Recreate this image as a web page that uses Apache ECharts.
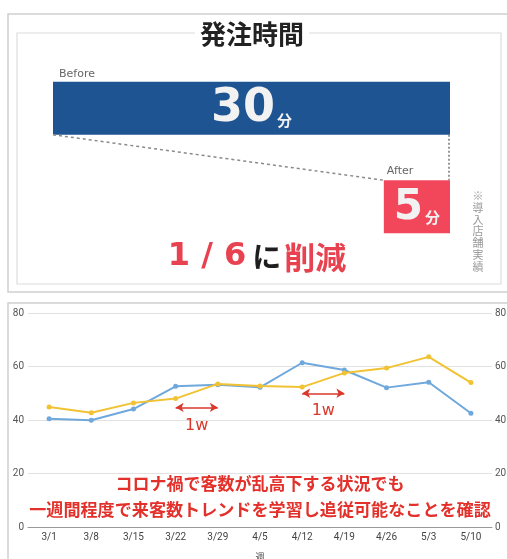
<!DOCTYPE html>
<html>
<head>
<meta charset="utf-8">
<script src="https://cdn.jsdelivr.net/npm/echarts@6/dist/echarts.min.js"></script>
<style>
  html, body { margin: 0; padding: 0; background: #fff; }
  #chart { width: 507px; height: 559px; }
</style>
</head>
<body>
<div id="chart"></div>
<script>
// Order time before / after introduction (minutes)
const phases = ['Before', 'After'];
const minutes = [30, 5];

// Weekly customer counts: actual vs. learned forecast
const weeks = ['3/1', '3/8', '3/15', '3/22', '3/29', '4/5', '4/12', '4/19', '4/26', '5/3', '5/10'];
const actual = [40.5, 39.9, 44.1, 52.6, 53.2, 52.2, 61.4, 58.7, 52.1, 54.1, 42.5];
const forecast = [44.9, 42.7, 46.4, 48.0, 53.5, 52.7, 52.3, 57.6, 59.4, 63.6, 54.0];
const yTicks = { min: 0, max: 80, step: 20 };

// One-week lag markers: [from week, to week, level, label]
const lagMarks = [
  ['3/22', '3/29', 44.7, '1w'],
  ['4/12', '4/19', 50.0, '1w']
];

const BLUE_BAR = '#1f5493';
const RED_BOX = '#f2475a';
const RED_TEXT = '#e8414f';
const NOTE_RED = '#e3302a';
const BAR_W = 53;
const NUM_FONT = '"DejaVu Sans", sans-serif';
const JP_FONT = '"Noto Sans CJK JP", sans-serif';

const chart = echarts.init(document.getElementById('chart'), null, { renderer: 'canvas' });

const offsets = [0, minutes[0] - minutes[1]];

// "NN分" label inside a bar
function valueLabel(numSize) {
  return {
    show: true,
    position: 'inside',
    formatter: p => '{n|' + p.value + '}{u|分}',
    rich: {
      n: { fontFamily: NUM_FONT, fontWeight: 'bold', fontSize: numSize, color: '#f2f2f2', verticalAlign: 'bottom', lineHeight: numSize + 2 },
      u: { fontFamily: JP_FONT, fontWeight: 'bold', fontSize: 15, color: '#f2f2f2', verticalAlign: 'bottom', padding: [0, 0, 4, 2], lineHeight: 20 }
    }
  };
}

chart.setOption({
  animation: false,
  backgroundColor: '#fff',
  grid: [
    { left: 53, right: 57, top: 59, height: 197, outerBoundsMode: 'none', containLabel: false },
    { left: 28, right: 15, top: 313, bottom: 32, outerBoundsMode: 'none', containLabel: false }
  ],
  xAxis: [
    { gridIndex: 0, type: 'value', min: 0, max: minutes[0], show: false },
    {
      gridIndex: 1, type: 'category', data: weeks, boundaryGap: true,
      axisLine: { lineStyle: { color: '#999', width: 1 } },
      axisTick: { show: false },
      axisLabel: { color: '#444', fontSize: 10, margin: 5, fontFamily: 'Roboto, sans-serif' },
      name: '週', nameLocation: 'middle', nameGap: 25,
      nameTextStyle: { color: '#444', fontSize: 9, fontFamily: JP_FONT }
    }
  ],
  yAxis: [
    { gridIndex: 0, type: 'category', data: phases, inverse: true, show: false },
    {
      gridIndex: 1, type: 'value', position: 'left',
      min: yTicks.min, max: yTicks.max, interval: yTicks.step,
      axisLine: { show: false }, axisTick: { show: false },
      axisLabel: { color: '#555', fontSize: 10, margin: 4, fontFamily: 'Roboto, sans-serif' },
      splitLine: { lineStyle: { color: '#e2e2e2', width: 1 } }
    },
    {
      gridIndex: 1, type: 'value', position: 'right',
      min: yTicks.min, max: yTicks.max, interval: yTicks.step,
      axisLine: { show: false }, axisTick: { show: false },
      axisLabel: { color: '#555', fontSize: 10, margin: 3, fontFamily: 'Roboto, sans-serif' },
      splitLine: { show: false }
    }
  ],
  graphic: [
    // outer frames
    { type: 'rect', shape: { x: 8, y: 14, width: 520, height: 278 }, style: { fill: '#fff', stroke: '#cfcfcf', lineWidth: 1.5 }, z: -10 },
    { type: 'rect', shape: { x: 17, y: 33, width: 484, height: 251 }, style: { fill: '#fff', stroke: '#dcdcdc', lineWidth: 1.2 }, z: -9 },
    { type: 'rect', shape: { x: 8, y: 303, width: 520, height: 280 }, style: { fill: '#fff', stroke: '#cfcfcf', lineWidth: 1.5 }, z: -10 },
    // heading
    {
      type: 'text', x: 252, y: 34, z: 5,
      style: {
        text: '発注時間', fontFamily: JP_FONT, fontWeight: 'bold', fontSize: 26,
        fill: '#222', align: 'center', verticalAlign: 'middle',
        backgroundColor: '#fff', padding: [0, 5]
      }
    },
    // reduction headline
    {
      type: 'text', x: 257, y: 257, z: 5,
      style: {
        text: '{a|1 / 6}{b|に}{c|削減}', align: 'center', verticalAlign: 'middle',
        rich: {
          a: { fontFamily: NUM_FONT, fontWeight: 'bold', fontSize: 32, fill: RED_TEXT, padding: [0, 6, 0, 0] },
          b: { fontFamily: JP_FONT, fontWeight: 'bold', fontSize: 29, fill: '#1e1e1e', padding: [0, 3, 0, 0] },
          c: { fontFamily: JP_FONT, fontWeight: 'bold', fontSize: 31, fill: RED_TEXT }
        }
      }
    },
    // footnote (vertical)
    {
      type: 'text', x: 478, y: 190, z: 5,
      style: {
        text: '※\n導\n入\n店\n舗\n実\n績', fontFamily: JP_FONT, fontSize: 11,
        lineHeight: 11.8, fill: '#9a9a9a', align: 'center', verticalAlign: 'top'
      }
    },
    // chart note
    {
      type: 'text', x: 260, y: 484, z: 5,
      style: {
        text: 'コロナ禍で客数が乱高下する状況でも', fontFamily: JP_FONT, fontWeight: 'bold',
        fontSize: 17, fill: NOTE_RED, align: 'center', verticalAlign: 'middle'
      }
    },
    {
      type: 'text', x: 260, y: 509, z: 5,
      style: {
        text: '一週間程度で来客数トレンドを学習し追従可能なことを確認', fontFamily: JP_FONT, fontWeight: 'bold',
        fontSize: 17.1, fill: NOTE_RED, align: 'center', verticalAlign: 'middle'
      }
    }
  ],
  series: [
    // transparent offset so the shorter bar ends at the same point as the longer one
    {
      type: 'bar', xAxisIndex: 0, yAxisIndex: 0, stack: 'time', barWidth: BAR_W,
      data: offsets, itemStyle: { color: 'transparent' }, silent: true
    },
    {
      type: 'bar', xAxisIndex: 0, yAxisIndex: 0, stack: 'time', barWidth: BAR_W,
      data: [
        { value: minutes[0], itemStyle: { color: BLUE_BAR }, label: valueLabel(46) },
        { value: minutes[1], itemStyle: { color: RED_BOX }, label: valueLabel(42) }
      ]
    },
    // connectors and phase captions
    {
      type: 'custom', xAxisIndex: 0, yAxisIndex: 0, data: [[0, 0]], z: 3,
      renderItem: function (params, api) {
        const half = BAR_W / 2;
        const b0 = api.coord([0, 0]);
        const b1 = api.coord([minutes[0], 0]);
        const a0 = api.coord([offsets[1], 1]);
        const a1 = api.coord([minutes[0], 1]);
        return {
          type: 'group',
          children: [
            {
              type: 'line',
              shape: { x1: b0[0], y1: b0[1] + half, x2: a0[0], y2: a0[1] - half },
              style: { stroke: '#8a8a8a', lineWidth: 1.5, lineDash: [3, 3] }
            },
            {
              type: 'line',
              shape: { x1: b1[0] - 1, y1: b1[1] + half, x2: a1[0] - 1, y2: a1[1] - half },
              style: { stroke: '#777', lineWidth: 1.5, lineDash: [2, 2] }
            },
            {
              type: 'text',
              style: { text: phases[0], x: b0[0] + 6, y: b0[1] - half - 8, fill: '#666', fontSize: 11, fontFamily: NUM_FONT, verticalAlign: 'middle' }
            },
            {
              type: 'text',
              style: { text: phases[1], x: a0[0] + 3, y: a0[1] - half - 9, fill: '#666', fontSize: 11, fontFamily: NUM_FONT, verticalAlign: 'middle' }
            }
          ]
        };
      }
    },
    {
      name: '来客数', type: 'line', xAxisIndex: 1, yAxisIndex: 1, data: actual,
      symbol: 'circle', symbolSize: 5, color: '#6fa8dc',
      lineStyle: { width: 2 }, z: 3
    },
    {
      name: '予測', type: 'line', xAxisIndex: 1, yAxisIndex: 1, data: forecast,
      symbol: 'circle', symbolSize: 5, color: '#f1c232',
      lineStyle: { width: 2 }, z: 4,
      markLine: {
        silent: true,
        symbol: ['arrow', 'arrow'], symbolSize: [7, 8],
        lineStyle: { color: '#d9392c', width: 1.5, type: 'solid' },
        label: {
          position: 'insideMiddleBottom', distance: 10,
          color: '#d9392c', fontSize: 16, fontFamily: NUM_FONT,
          formatter: p => p.name
        },
        data: lagMarks.map(m => [
          { coord: [m[0], m[2]], name: m[3] },
          { coord: [m[1], m[2]] }
        ])
      }
    }
  ]
});
</script>
</body>
</html>
